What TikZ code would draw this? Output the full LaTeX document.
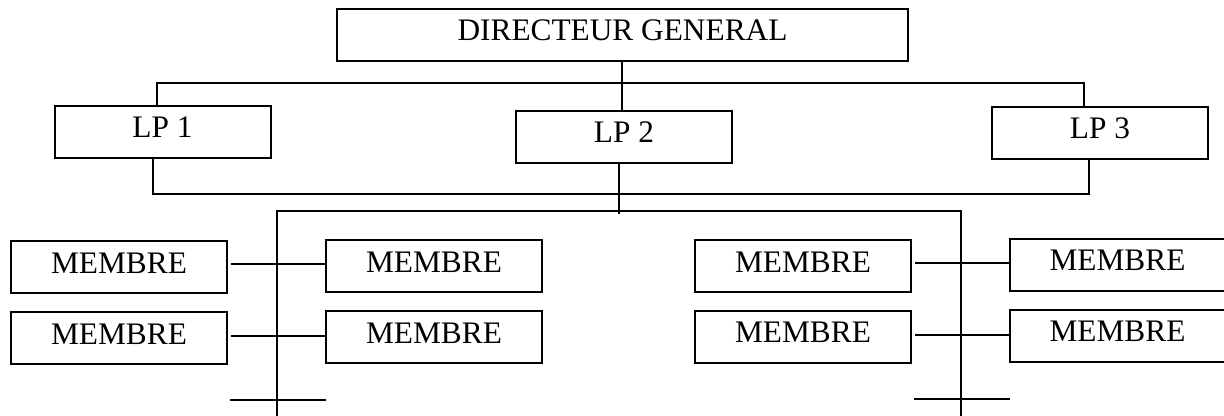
\documentclass[tikz,border=0pt]{standalone}
\usepackage{fontspec}
\setmainfont{Liberation Serif}
\begin{document}
\begin{tikzpicture}[x=0.75pt,y=-0.75pt,
  box/.style={draw, line width=1.5pt, rectangle, inner sep=0pt,
    minimum width=162pt, minimum height=39pt,
    text height=15.6pt, text depth=6.6pt,
    font=\fontsize{23.5}{28}\selectfont},
  bar/.style={line width=1.4pt},
  link/.style={line width=1.2pt}]
\useasboundingbox (0,0) rectangle (1224,416);
% boxes
\node[box, minimum width=428.25pt] (dg) at (622.5,35) {DIRECTEUR GENERAL};
\node[box] (lp1) at (162.5,132) {LP 1};
\node[box] (lp2) at (624,137) {LP 2};
\node[box] (lp3) at (1100,133) {LP 3};
\node[box] (m1) at (119,267.5) {MEMBRE};
\node[box] (m2) at (434,266.5) {MEMBRE};
\node[box] (m3) at (119,338.5) {MEMBRE};
\node[box] (m4) at (434,337.5) {MEMBRE};
\node[box] (m5) at (803,266.5) {MEMBRE};
\node[box] (m6) at (1117.5,265) {MEMBRE};
\node[box] (m7) at (803,337) {MEMBRE};
\node[box] (m8) at (1117.5,336) {MEMBRE};
% upper connectors
\draw[bar] ([xshift=-0.4pt]dg.south) -- ([xshift=-0.4pt]dg.south |- lp2.north);
\draw[bar] ([xshift=-4.1pt]lp1.north) -- ++(0,-22) -| ([xshift=-12pt]lp3.north);
\draw[bar] ([xshift=-7.1pt]lp1.south) -- ++(0,35) -| ([xshift=-8.25pt]lp3.south);
\draw[bar] ([xshift=-3.75pt]lp2.south) -- ++(0,50);
% member bus
\coordinate (bl) at (277,416);
\coordinate (br) at (961,416);
\coordinate (busl) at (277,211);
\coordinate (busr) at (961,211);
\draw[link] (bl) -- (busl) -- (busr) -- (br);
% member links
\draw[link] ([xshift=2.5pt,yshift=2.6pt]m1.east) -- ([yshift=2.6pt]m1.east -| m2.west);
\draw[link] ([xshift=2.5pt,yshift=1.9pt]m3.east) -- ([yshift=1.9pt]m3.east -| m4.west);
\draw[link] ([xshift=2.5pt,yshift=2.6pt]m5.east) -- ([yshift=2.6pt]m5.east -| m6.west);
\draw[link] ([xshift=2.5pt,yshift=1.5pt]m7.east) -- ([yshift=1.5pt]m7.east -| m8.west);
% bottom short lines
\coordinate (s1) at (230,400);
\coordinate (s2) at (326,400);
\coordinate (s3) at (914,399);
\coordinate (s4) at (1010,399);
\draw[link] (s1) -- (s2);
\draw[link] (s3) -- (s4);
\end{tikzpicture}
\end{document}
